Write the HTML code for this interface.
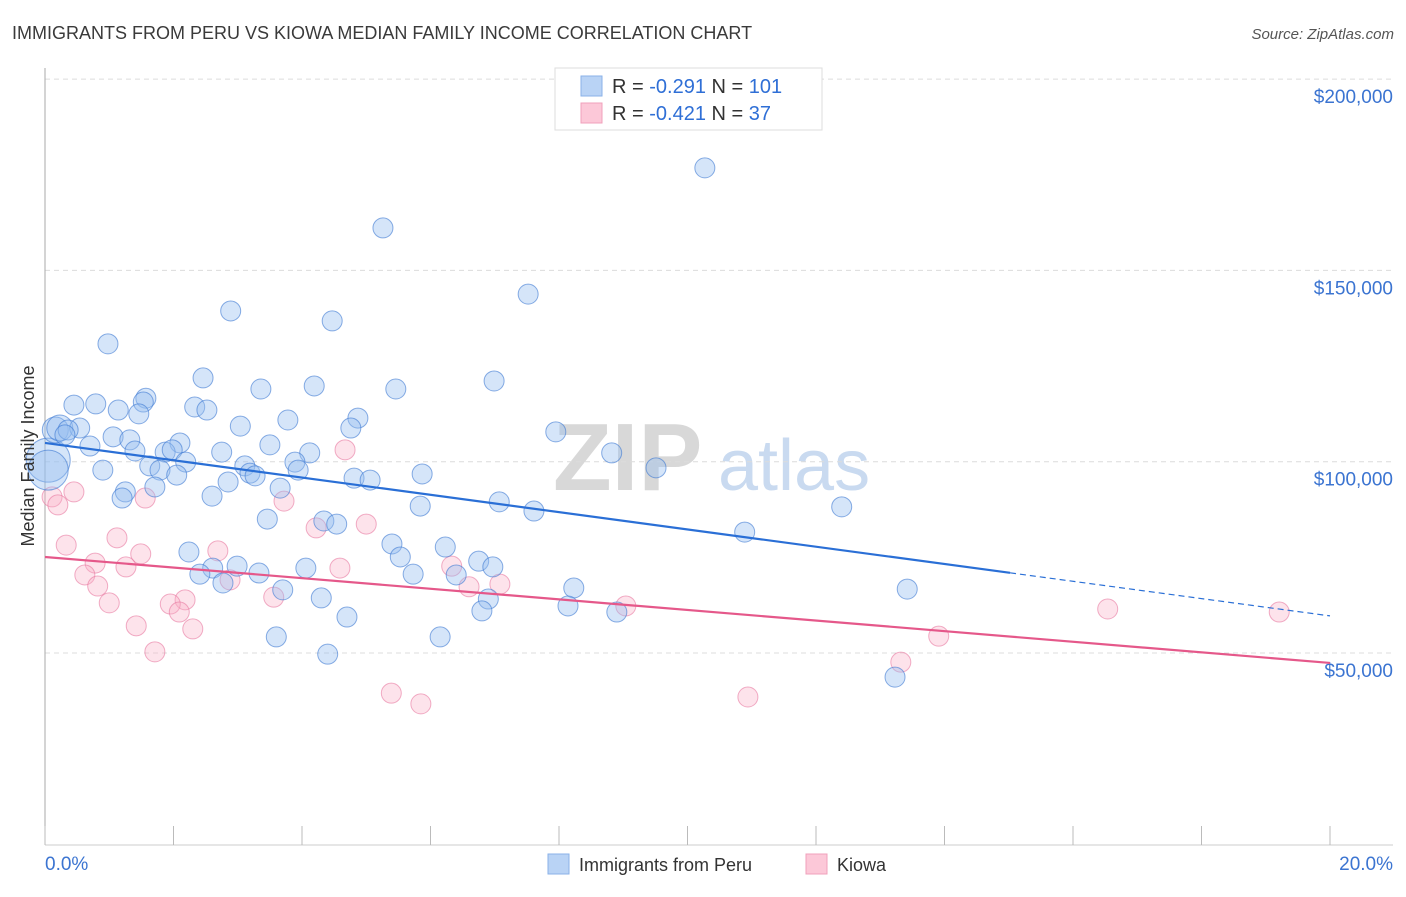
<!DOCTYPE html>
<html><head><meta charset="utf-8"><style>
body{margin:0;background:#fff;font-family:"Liberation Sans",sans-serif;}
svg text{font-family:"Liberation Sans",sans-serif;}
</style></head><body>
<svg id="chart" width="1406" height="892" xmlns="http://www.w3.org/2000/svg">
<text x="12" y="39" font-size="18" fill="#3a3a3a">IMMIGRANTS FROM PERU VS KIOWA MEDIAN FAMILY INCOME CORRELATION CHART</text>
<text x="1394" y="39" font-size="15" fill="#555" text-anchor="end" font-style="italic">Source: ZipAtlas.com</text>
<g>
<text x="553" y="490" font-size="96" fill="#d8d8d8" font-family="Liberation Serif" font-weight="bold">ZIP</text>
<text x="718" y="490" font-size="72" fill="#c9daf0">atlas</text>
</g>
<g id="grid"></g>
<g id="axes"></g>
<g id="pinkPts"></g>
<g id="bluePts"></g>
<g id="trends"></g>
<text transform="translate(34,456) rotate(-90)" font-size="18" fill="#333" text-anchor="middle">Median Family Income</text>
<g>
<rect x="555" y="68" width="267" height="62" fill="#fff" stroke="#ddd"/>
<rect x="581" y="76" width="21" height="20" fill="#b9d3f5" stroke="#8ab2e8"/>
<rect x="581" y="103" width="21" height="20" fill="#fcc8d8" stroke="#f0a0bb"/>
<text x="612" y="93" font-size="20" fill="#333">R = <tspan fill="#2f6fd6">-0.291</tspan>   N = <tspan fill="#2f6fd6">101</tspan></text>
<text x="612" y="120" font-size="20" fill="#333">R = <tspan fill="#2f6fd6">-0.421</tspan>   N = <tspan fill="#2f6fd6"> 37</tspan></text>
</g>
<g>
<rect x="548" y="854" width="21" height="20" fill="#b9d3f5" stroke="#8ab2e8"/>
<text x="579" y="871" font-size="18" fill="#333">Immigrants from Peru</text>
<rect x="806" y="854" width="21" height="20" fill="#fcc8d8" stroke="#f0a0bb"/>
<text x="837" y="871" font-size="18" fill="#333">Kiowa</text>
</g>
</svg>
<script>
const xTicks=[0,2,4,6,8,10,12,14,16,18,20];
const yTicks=[50,100,150,200];
const yTickLabels=["$50,000","$100,000","$150,000","$200,000"];
const blueX=[0.05,0.05,0.16,0.23,10.27,5.26,7.52,2.89,4.47,0.98,2.46,6.99,3.36,4.19,5.46,1.57,1.53,0.45,0.79,2.33,2.52,1.14,1.46,3.78,4.87,3.04,4.76,0.54,0.36,0.31,1.06,7.95,1.32,0.70,3.50,2.10,4.12,2.75,1.87,1.98,1.40,8.82,2.19,1.63,3.89,3.11,0.90,1.79,3.94,9.51,3.19,3.27,5.87,2.05,4.81,5.06,2.85,1.71,3.66,1.25,2.60,1.20,7.07,5.84,12.40,7.61,3.46,4.34,4.54,10.89,5.40,6.23,2.24,5.53,6.75,2.61,2.99,4.06,6.97,3.33,5.73,6.40,2.41,2.77,8.23,3.70,13.42,4.30,6.90,8.14,8.90,6.80,4.70,3.60,6.15,4.40,13.23];
const blueY=[100.4,97.8,108.3,108.8,176.8,161.1,143.8,139.4,136.8,130.8,121.9,121.1,119.0,119.8,119.0,116.6,115.6,114.8,115.1,114.3,113.5,113.5,112.5,110.9,111.4,109.3,108.8,108.8,108.3,107.0,106.5,107.8,105.7,104.1,104.4,104.9,102.3,102.5,102.5,103.1,102.8,102.3,99.9,98.9,99.9,98.9,97.8,97.8,97.8,98.4,97.0,96.3,96.8,96.5,95.7,95.2,94.7,93.4,93.1,92.1,91.0,90.5,89.5,88.4,88.2,87.1,85.0,84.5,83.7,81.6,78.5,77.7,76.4,75.1,74.0,72.2,72.7,72.2,72.5,70.9,70.6,70.4,70.6,68.3,67.0,66.5,66.7,64.4,64.1,62.3,60.7,61.0,59.4,54.2,54.2,49.7,43.7];
const blueSize=[2.2,2.0,1.3,1.3];
const pinkX=[0.11,0.20,0.45,1.56,3.72,4.67,0.33,1.12,2.69,1.49,0.78,0.62,1.26,5.00,4.22,4.59,6.33,2.88,0.82,2.18,1.00,1.95,3.56,2.09,6.60,7.08,9.04,1.42,2.30,1.71,5.39,5.85,10.94,13.32,13.91,16.54,19.21];
const pinkY=[90.8,88.7,92.1,90.5,89.7,103.1,78.2,80.1,76.7,75.9,73.5,70.4,72.5,83.7,82.7,72.2,72.7,69.1,67.5,63.9,63.1,62.8,64.6,60.7,67.3,68.0,62.3,57.1,56.3,50.3,39.5,36.7,38.5,47.6,54.4,61.5,60.7];
const blueTrend=[104.9,59.7];
const blueSolidEnd=15.02;
const pinkTrend=[75.1,47.4];

const NS="http://www.w3.org/2000/svg";
const X=v=>45+v*64.25;
const Y=v=>653-(v-50)*3.826;
function mk(tag,attrs,parent){const e=document.createElementNS(NS,tag);for(const k in attrs)e.setAttribute(k,attrs[k]);parent.appendChild(e);return e;}
const grid=document.getElementById('grid'),axes=document.getElementById('axes');
yTicks.forEach((t,i)=>{
  const l=mk('line',{x1:45,x2:1393,y1:Y(t),y2:Y(t),stroke:'#dcdcdc','stroke-dasharray':'5,4'},grid);
  
  
  const tx=mk('text',{x:1393,y:Y(t)+24,'font-size':19,fill:'#3b74d1','text-anchor':'end'},axes);
  tx.textContent=yTickLabels[i];
  
  
});
mk('line',{x1:45,x2:45,y1:68,y2:845,stroke:'#aaa'},axes);
mk('line',{x1:45,x2:1393,y1:845,y2:845,stroke:'#ccc'},axes);
xTicks.forEach(t=>{
  const l=mk('line',{x1:X(t),x2:X(t),y1:826,y2:845,stroke:'#bbb'},axes);
  
  
});
const xl=mk('text',{x:45,y:870,'font-size':19,fill:'#3b74d1'},axes);xl.textContent=xTicks[0].toFixed(1)+'%';


const xr=mk('text',{x:1393,y:870,'font-size':19,fill:'#3b74d1','text-anchor':'end'},axes);xr.textContent=xTicks[xTicks.length-1].toFixed(1)+'%';


const pg=document.getElementById('pinkPts');
pinkX.forEach((x,i)=>{
  const c=mk('circle',{cx:X(x),cy:Y(pinkY[i]),r:10,fill:'rgba(248,175,199,0.35)',stroke:'rgba(232,120,160,0.6)','stroke-width':1},pg);
  
  
});
const bg=document.getElementById('bluePts');
blueX.forEach((x,i)=>{
  const s=blueSize[i]||1;
  const c=mk('circle',{cx:X(x),cy:Y(blueY[i]),r:10*s,fill:'rgba(150,190,240,0.4)',stroke:'rgba(60,120,210,0.6)','stroke-width':1},bg);
  
  
});
const tg=document.getElementById('trends');
const bAt=v=>blueTrend[0]+(blueTrend[1]-blueTrend[0])*v/20;
const b1=mk('line',{x1:X(0),y1:Y(bAt(0)),x2:X(blueSolidEnd),y2:Y(bAt(blueSolidEnd)),stroke:'#2a6fd6','stroke-width':2.2},tg);


const b2=mk('line',{x1:X(blueSolidEnd),y1:Y(bAt(blueSolidEnd)),x2:X(20),y2:Y(bAt(20)),stroke:'#2a6fd6','stroke-width':1.2,'stroke-dasharray':'6,4'},tg);


const p1=mk('line',{x1:X(0),y1:Y(pinkTrend[0]),x2:X(20),y2:Y(pinkTrend[1]),stroke:'#e5588a','stroke-width':2.2},tg);


</script>
</body></html>
